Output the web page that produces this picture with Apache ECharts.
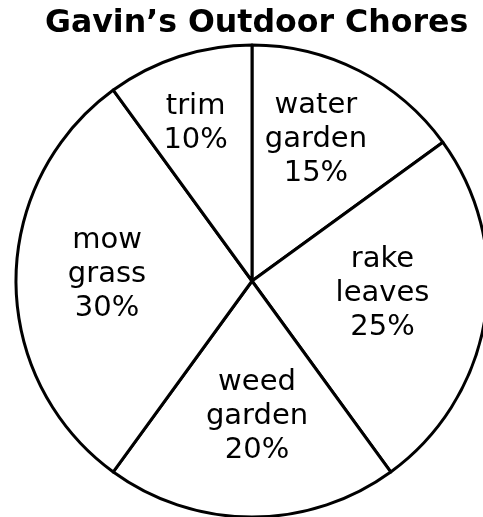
<!DOCTYPE html>
<html>
<head>
<meta charset="utf-8">
<script src="https://cdn.jsdelivr.net/npm/echarts@6/dist/echarts.min.js"></script>
<style>
html,body{margin:0;padding:0;background:#fff;}
#chart{width:483px;height:517px;}
</style>
</head>
<body>
<div id="chart"></div>
<script>
var titleText = "Gavin\u2019s Outdoor Chores";
var categories = ["water garden", "rake leaves", "weed garden", "mow grass", "trim"];
var values = [15, 25, 20, 30, 10];

// label nudges (layout only)
var labelNudge = [[9, -34], [11, -6], [5, 14], [-24, -7], [-19, -42]];

var chart = echarts.init(document.getElementById('chart'), null, {renderer: 'canvas'});
var data = categories.map(function (c, i) { return {name: c, value: values[i]}; });

chart.setOption({
  backgroundColor: '#ffffff',
  animation: false,
  title: {
    text: titleText,
    left: 40,
    top: 3,
    textStyle: {fontFamily: 'DejaVu Sans', fontWeight: 'bold', fontSize: 31.6, color: '#000'}
  },
  series: [{
    type: 'pie',
    center: [252, 281],
    radius: [0, 236],
    startAngle: 90,
    clockwise: true,
    silent: true,
    data: data,
    itemStyle: {color: '#ffffff', borderColor: '#000000', borderWidth: 3},
    label: {
      show: true,
      position: 'inside',
      fontFamily: 'DejaVu Sans',
      fontSize: 29,
      lineHeight: 34,
      color: '#000',
      formatter: function (p) { return p.name.split(' ').join('\n') + '\n' + p.value + '%'; }
    },
    labelLayout: function (p) {
      var n = labelNudge[p.dataIndex];
      return {dx: n[0], dy: n[1]};
    },
    labelLine: {show: false},
    emphasis: {disabled: true}
  }]
});
</script>
</body>
</html>
